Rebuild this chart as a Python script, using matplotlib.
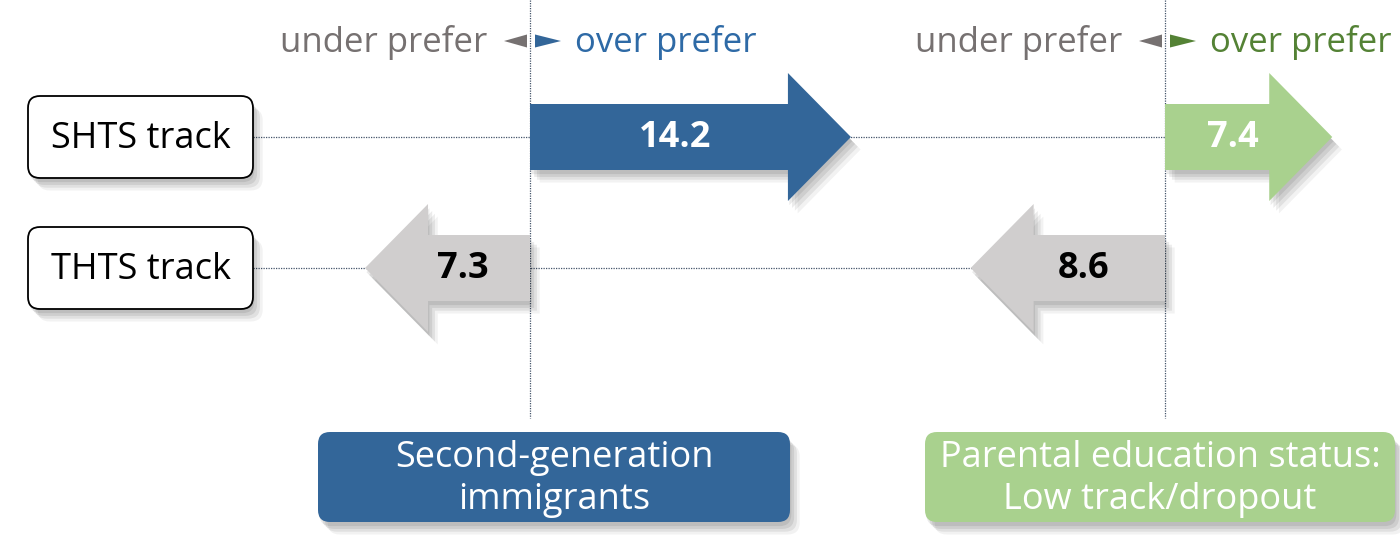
import matplotlib.pyplot as plt
import matplotlib.patheffects as pe
from matplotlib.patches import FancyArrow, FancyBboxPatch, Polygon

plt.rcParams['font.family'] = ['Open Sans', 'DejaVu Sans']

# Data
tracks = ["SHTS track", "THTS track"]
groups = ["Second-generation\nimmigrants", "Parental education status:\nLow track/dropout"]
# positive = over prefer, negative = under prefer
values = [[14.2, -7.3],
          [7.4, -8.6]]
over_colors = ["#336699", "#a9d18e"]
over_text = ["#2e6aa6", "#548235"]
under_color = "#d0cece"
header_under = "under prefer"
header_over = "over prefer"

# Layout (pixel-like canvas)
W, H = 1400, 543
zero_x = [530, 1165]
row_y = [137, 268]
scale = 22.6          # px per unit
body_h = 66
head_h = 128
head_len = 63


def shadow():
    return [pe.SimplePatchShadow(offset=(1, -3), shadow_rgbFace='k', alpha=0.08),
            pe.SimplePatchShadow(offset=(3, -5), shadow_rgbFace='k', alpha=0.08),
            pe.SimplePatchShadow(offset=(5, -7), shadow_rgbFace='k', alpha=0.07),
            pe.SimplePatchShadow(offset=(7, -9), shadow_rgbFace='k', alpha=0.05),
            pe.Normal()]


fig = plt.figure(figsize=(14, 5.43), dpi=100)
ax = fig.add_axes([0, 0, 1, 1])
ax.set_xlim(0, W)
ax.set_ylim(H, 0)
ax.axis('off')

# guide lines
for zx in zero_x:
    ax.plot([zx, zx], [0, 418], ls=(0, (1, 1)), lw=0.9, color="#44546a", zorder=1)
for ry in row_y:
    ax.plot([253, zero_x[-1]], [ry, ry], ls=(0, (1, 1)), lw=0.9, color="#44546a", zorder=1)

# track labels
for ry, name in zip(row_y, tracks):
    box = FancyBboxPatch((28, ry - 41), 225, 82, boxstyle="round,pad=0,rounding_size=12",
                         fc="white", ec="black", lw=1.3, zorder=3)
    box.set_path_effects(shadow())
    ax.add_patch(box)
    ax.text(141, ry + 2, name, ha='center', va='center', fontsize=26, color='black', zorder=4)

# headers
for g, zx in enumerate(zero_x):
    tri_col = over_colors[0] if g == 0 else over_text[g]
    ax.text(zx - 43, 42, header_under, ha='right', va='center', fontsize=25, color="#767171")
    ax.text(zx + 45, 42, header_over, ha='left', va='center', fontsize=25, color=over_text[g])
    ax.add_patch(Polygon([(zx - 26, 41), (zx - 3, 34.5), (zx - 3, 47.5)], closed=True,
                         fc="#767171", ec='none'))
    ax.add_patch(Polygon([(zx + 31, 41), (zx + 5, 34.5), (zx + 5, 47.5)], closed=True,
                         fc=tri_col, ec='none'))

# arrows
for g, zx in enumerate(zero_x):
    for r, ry in enumerate(row_y):
        v = values[g][r]
        dx = v * scale
        sign = 1 if v > 0 else -1
        color = over_colors[g] if v > 0 else under_color
        arr = FancyArrow(zx, ry, dx, 0, width=body_h, head_width=head_h, head_length=head_len,
                         length_includes_head=True, fc=color, ec='none', zorder=2)
        arr.set_path_effects(shadow())
        ax.add_patch(arr)
        tc = 'white' if v > 0 else 'black'
        tx = zx + (dx - sign * head_len / 2) / 2
        ax.text(tx, ry + 1, f"{abs(v):.1f}", ha='center', va='center', fontsize=26,
                fontweight='bold', color=tc, zorder=3)

# group boxes
group_boxes = [(318, 790), (925, 1395)]
for g, (x0, x1) in enumerate(group_boxes):
    box = FancyBboxPatch((x0, 432), x1 - x0, 90, boxstyle="round,pad=0,rounding_size=12",
                         fc=over_colors[g], ec='none', zorder=3)
    box.set_path_effects(shadow())
    ax.add_patch(box)
    ax.text((x0 + x1) / 2, 479, groups[g], ha='center', va='center', fontsize=26,
            color='white', linespacing=1.22, zorder=4)

fig.savefig("out.png", dpi=100)
